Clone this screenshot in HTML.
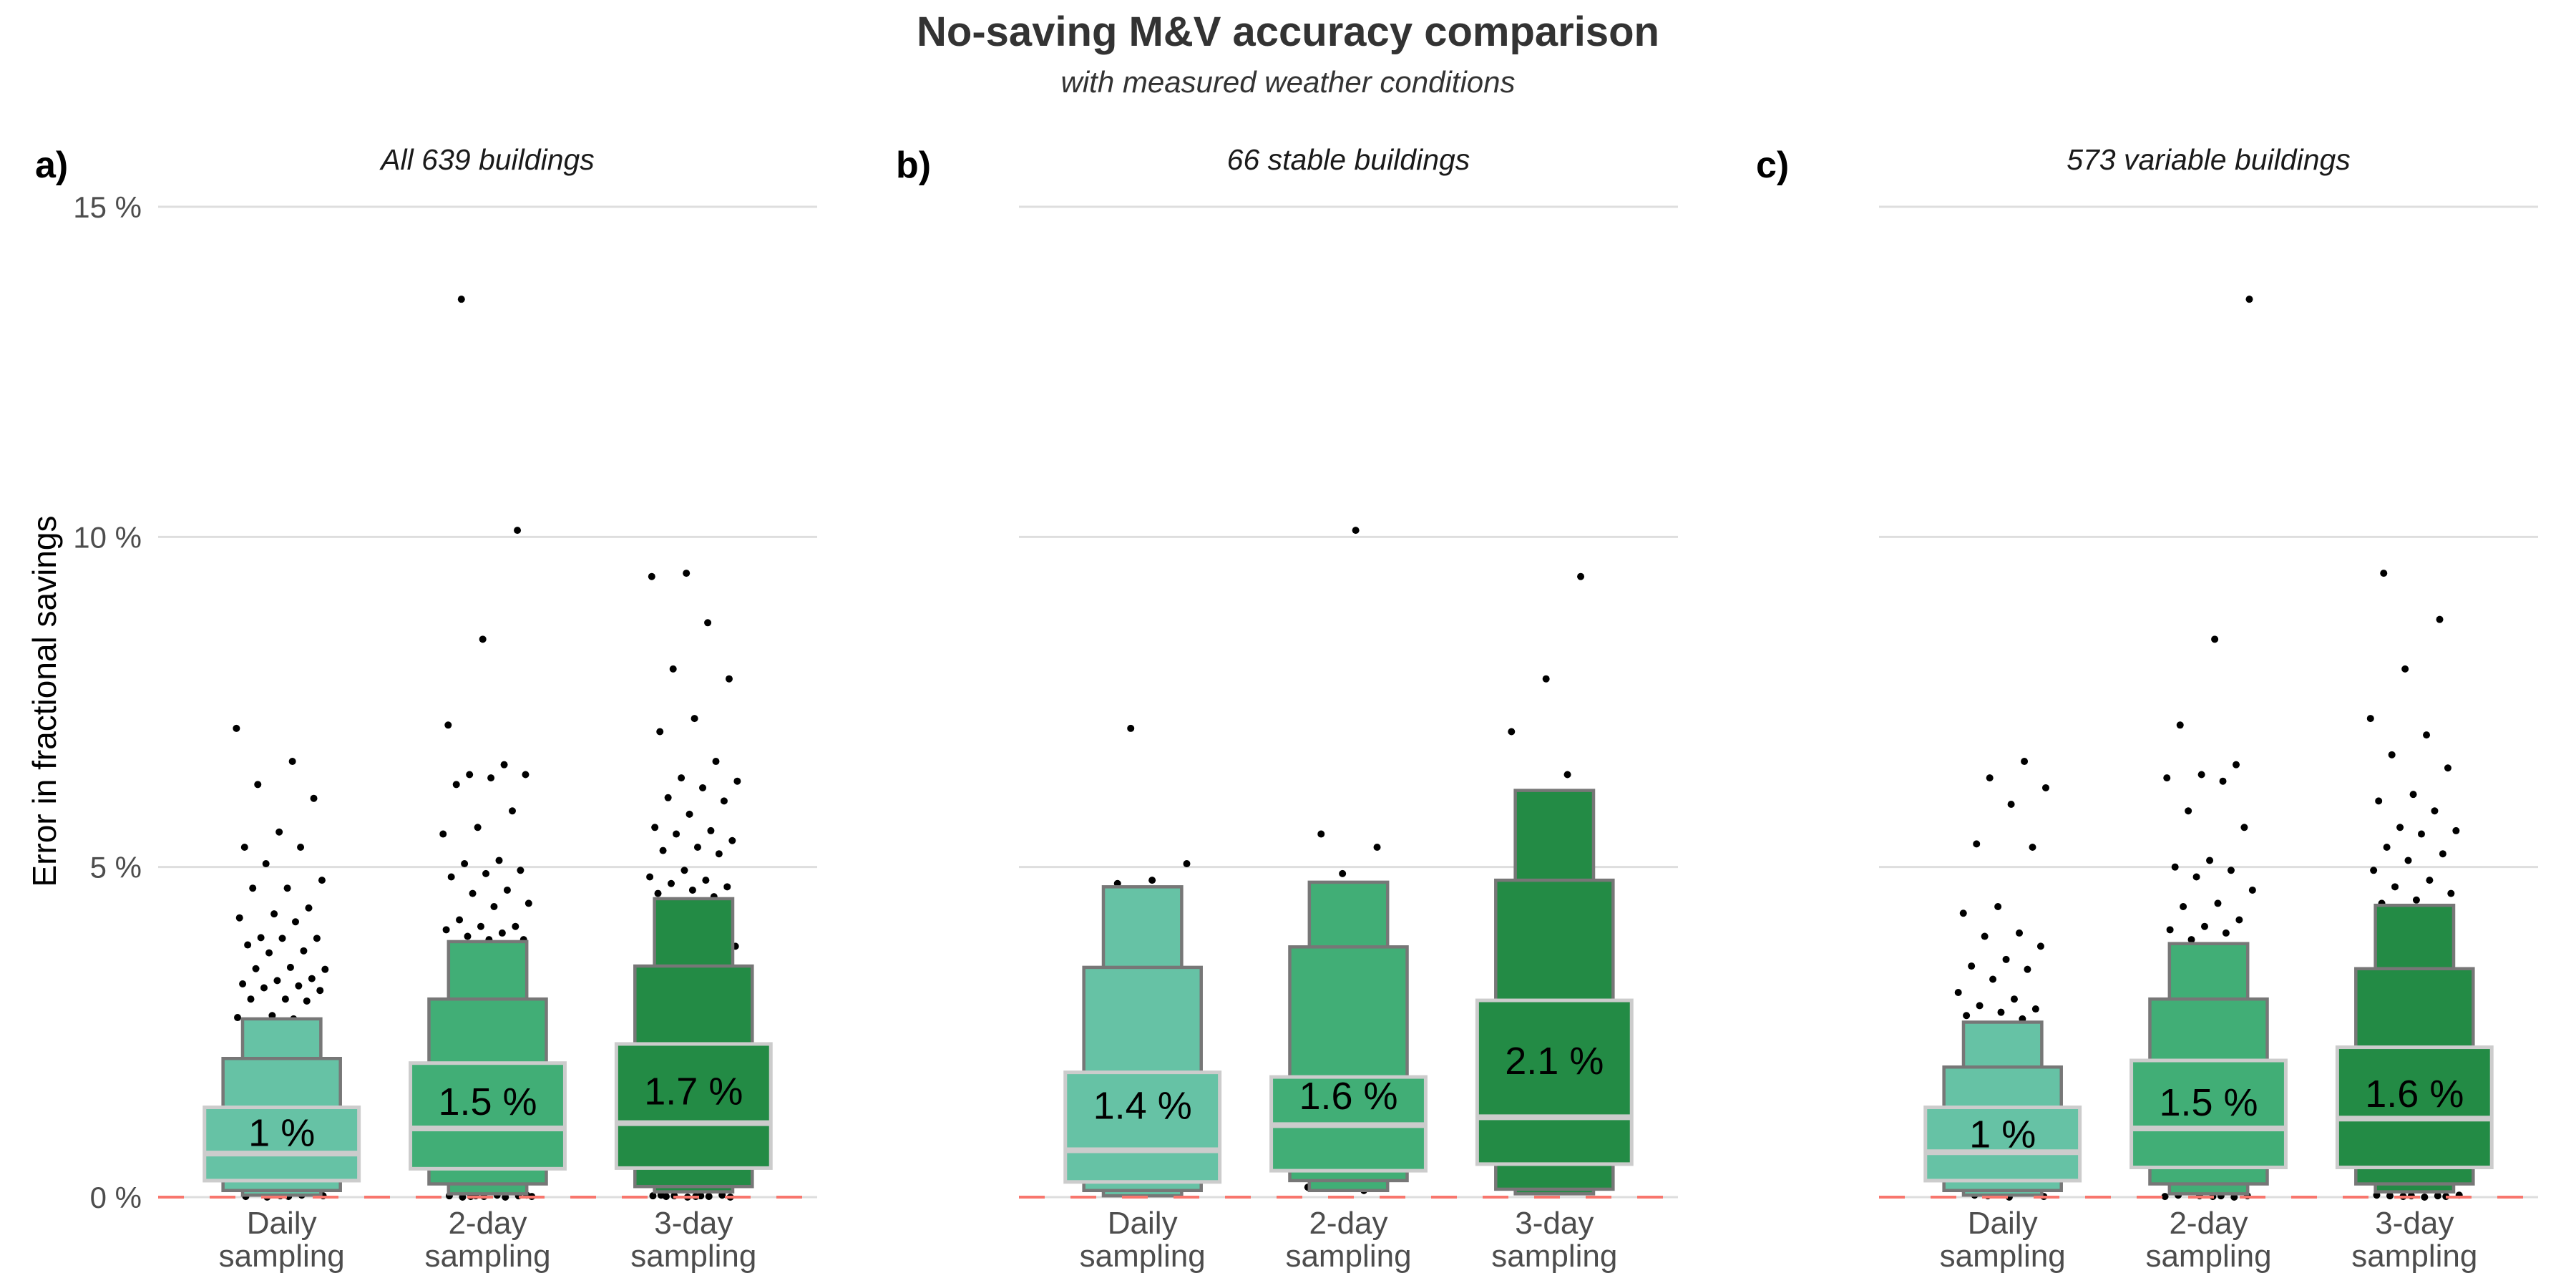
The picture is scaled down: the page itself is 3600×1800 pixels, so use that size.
<!DOCTYPE html>
<html><head><meta charset="utf-8">
<style>
html,body{margin:0;padding:0;background:#fff;}
svg{display:block;font-family:"Liberation Sans",sans-serif;}
</style></head>
<body>
<svg id="chart" width="3600" height="1800" viewBox="0 0 3600 1800" xmlns="http://www.w3.org/2000/svg">
<text x="1800" y="64" text-anchor="middle" font-size="58" font-weight="bold" fill="#333">No-saving M&amp;V accuracy comparison</text>
<text x="1800" y="129" text-anchor="middle" font-size="42" font-style="italic" fill="#333">with measured weather conditions</text>
<text transform="translate(78,980) rotate(-90)" text-anchor="middle" font-size="46" fill="#000">Error in fractional savings</text>
<g id="plots"></g>
</svg>
<script>
const panelTitles = ["All 639 buildings", "66 stable buildings", "573 variable buildings"];
const panelTags = ["a)", "b)", "c)"];
const categories = ["Daily", "2-day", "3-day"];
const yTicks = [0, 5, 10, 15];
const yTickLabels = ["0 %", "5 %", "10 %", "15 %"];
const medians = [[0.66,1.04,1.12],[0.71,1.09,1.21],[0.68,1.04,1.19]];
const level1 = [[[0.25,1.36],[0.43,2.03],[0.44,2.32]],[[0.23,1.89],[0.4,1.82],[0.5,2.98]],[[0.25,1.36],[0.45,2.07],[0.45,2.27]]];
const level2 = [[[0.1,2.1],[0.2,3.0],[0.16,3.5]],[[0.1,3.48],[0.25,3.79],[0.12,4.8]],[[0.1,1.97],[0.2,3.0],[0.2,3.46]]];
const level3 = [[[0.03,2.7],[0.05,3.87],[0.08,4.52]],[[0.02,4.7],[0.1,4.77],[0.05,6.16]],[[0.03,2.65],[0.05,3.84],[0.08,4.42]]];
const meanLabels = [["1 %","1.5 %","1.7 %"],["1.4 %","1.6 %","2.1 %"],["1 %","1.5 %","1.6 %"]];
const meanValues = [[0.98,1.45,1.61],[1.39,1.54,2.07],[0.96,1.44,1.57]];
const outliers = [
 [[7.1,6.6,6.25,6.04,5.53,5.3,5.3,5.05,4.8,4.68,4.68,4.38,4.29,4.23,4.17,3.93,3.92,3.92,3.82,3.73,3.7,3.45,3.48,3.46,3.31,3.28,3.23,3.2,3.17,3.13,3.0,3.0,2.97,2.75,2.72,2.7,2.5,2.3,0.02,0.01,0.03,0.0,0.02,0.01],
  [13.6,10.1,8.45,7.15,6.55,6.4,6.4,6.35,6.25,5.85,5.6,5.5,5.1,5.05,4.95,4.9,4.85,4.65,4.6,4.45,4.4,4.2,4.1,4.1,4.05,4.0,3.95,3.9,3.9,3.6,3.3,0.02,0.01,0.03,0.0,0.02,0.01,0.02,0.0,0.01,0.03],
  [9.45,9.4,8.7,8.0,7.85,7.25,7.05,6.6,6.35,6.3,6.2,6.05,6.0,5.8,5.6,5.55,5.5,5.4,5.3,5.25,5.2,4.95,4.85,4.8,4.75,4.7,4.65,4.6,4.55,4.0,3.8,0.02,0.01,0.03,0.0,0.02,0.01,0.02,0.0,0.01,0.03]],
 [[7.1,5.05,4.8,4.75],[10.1,5.5,5.3,4.9,0.15,0.1],[9.4,7.85,7.05,6.4,6.1,0.1]],
 [[6.6,6.35,6.2,5.95,5.35,5.3,4.4,4.3,4.0,3.95,3.8,3.6,3.5,3.45,3.3,3.1,3.0,2.9,2.85,2.8,2.75,2.7,0.02,0.01,0.0,0.03],
  [13.6,8.45,7.15,6.55,6.4,6.35,6.3,5.85,5.6,5.1,5.0,4.95,4.85,4.65,4.45,4.4,4.2,4.1,4.05,4.0,3.9,0.02,0.01,0.03,0.0,0.02,0.01,0.02],
  [9.45,8.75,8.0,7.25,7.0,6.7,6.5,6.1,6.0,5.85,5.6,5.55,5.5,5.3,5.2,5.1,4.95,4.8,4.7,4.6,4.5,4.45,0.02,0.01,0.03,0.0,0.02,0.01,0.02,0.03]]
];

const NS = "http://www.w3.org/2000/svg";
const fills = ["#66c2a5", "#41ae76", "#238b45"];
const panelX0 = [221, 1424, 2626], panelW = 921;
const y0 = 1673, yPerUnit = (1673 - 289) / 15;
function yScale(v) { return y0 - v * yPerUnit; }
function xScale(p, i) { return panelX0[p] + (i + 1 - 0.4) / 3.2 * panelW; }
const unit = panelW / 3.2;
function mk(tag, attrs, parent) { const e = document.createElementNS(NS, tag); for (const k in attrs) e.setAttribute(k, attrs[k]); parent.appendChild(e); return e; }
const root = document.getElementById("plots");

for (let p = 0; p < 3; p++) {
  const g = mk("g", {}, root);
  
  
  const tag = mk("text", {x: panelX0[p] - 172, y: 248, "font-size": 52, "font-weight": "bold", fill: "#000"}, g);
  tag.textContent = panelTags[p];
  
  
  const tt = mk("text", {x: panelX0[p] + panelW / 2, y: 237, "text-anchor": "middle", "font-size": 41, "font-style": "italic", fill: "#1a1a1a"}, g);
  tt.textContent = panelTitles[p];
  
  
  yTicks.forEach((t, k) => {
    const gl = mk("line", {x1: panelX0[p], x2: panelX0[p] + panelW, y1: yScale(t), y2: yScale(t), stroke: "#dedede", "stroke-width": 3}, g);
    
    
    if (p === 0) {
      const tl = mk("text", {x: 198, y: yScale(t) + 15, "text-anchor": "end", "font-size": 42, fill: "#4d4d4d"}, g);
      tl.textContent = yTickLabels[k];
      
      
    }
  });
  for (let i = 0; i < 3; i++) {
    const cx = xScale(p, i);
    outliers[p][i].forEach((v, j) => {
      const jit = (((j * 0.61803 + p * 0.37 + i * 0.21) % 1) - 0.5) * 0.44 * unit;
      const c = mk("circle", {cx: cx + jit, cy: yScale(v), r: 5, fill: "#000"}, g);
      
      
    });
    const levels = [[level3, 0.38, "#777777"], [level2, 0.57, "#777777"], [level1, 0.75, "#cccccc"]];
    levels.forEach(([arr, w, st], li) => {
      const lo = arr[p][i][0], hi = arr[p][i][1];
      const r = mk("rect", {x: cx - w * unit / 2, y: yScale(hi), width: w * unit, height: yScale(lo) - yScale(hi), fill: fills[i], stroke: st, "stroke-width": li === 2 ? 5 : 4.5}, g);
      
      
    });
    const md = mk("line", {x1: cx - 0.75 * unit / 2, x2: cx + 0.75 * unit / 2, y1: yScale(medians[p][i]), y2: yScale(medians[p][i]), stroke: "#cccccc", "stroke-width": 8}, g);
    
    
    const ml = mk("text", {x: cx, y: yScale(meanValues[p][i]) + 19, "text-anchor": "middle", "font-size": 54, fill: "#000"}, g);
    ml.textContent = meanLabels[p][i];
    
    
    const xl1 = mk("text", {x: cx, y: 1724, "text-anchor": "middle", "font-size": 44, fill: "#4d4d4d"}, g);
    xl1.textContent = categories[i];
    
    
    const xl2 = mk("text", {x: cx, y: 1770, "text-anchor": "middle", "font-size": 44, fill: "#4d4d4d"}, g);
    xl2.textContent = "sampling";
    
    
  }
  const zl = mk("line", {x1: panelX0[p], x2: panelX0[p] + panelW, y1: y0, y2: y0, stroke: "#f8766d", "stroke-width": 4, "stroke-dasharray": "36 36"}, g);
  
  
}
</script>
</body></html>
